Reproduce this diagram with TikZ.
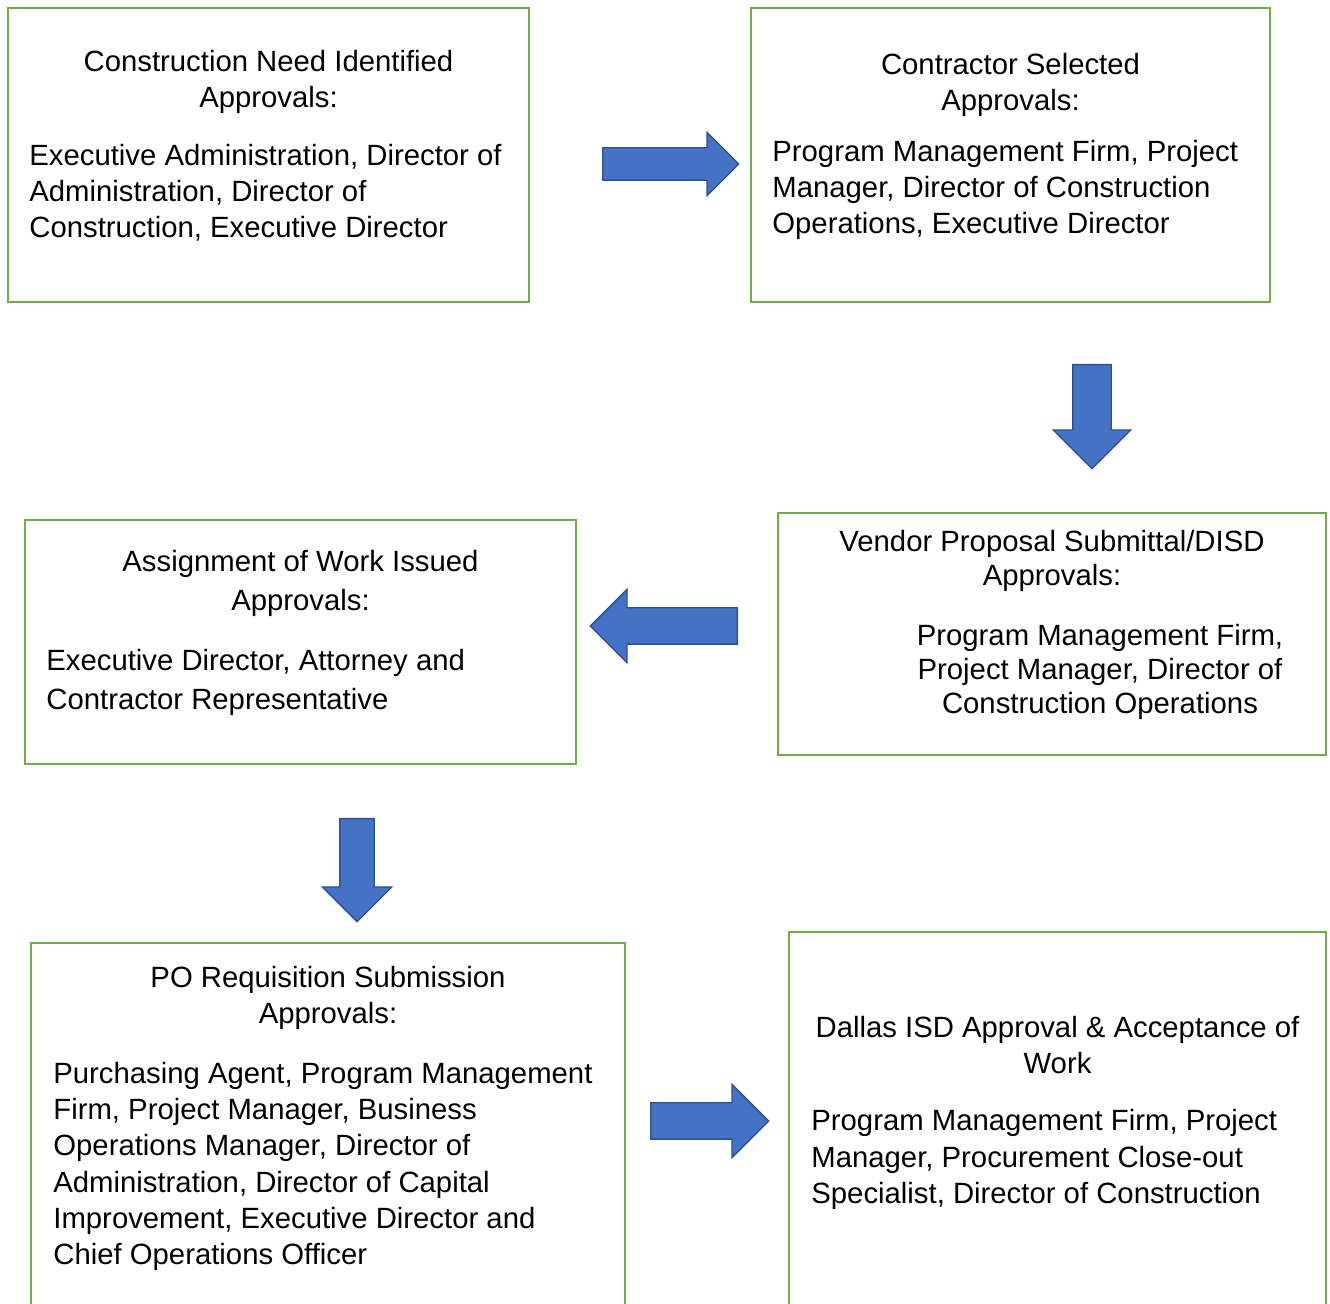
\documentclass[tikz,border=0pt]{standalone}
\usepackage{fontspec}
\setmainfont{Liberation Sans}
\usetikzlibrary{shapes,arrows,positioning,fit}
\definecolor{stagegreen}{RGB}{112,173,71}
\definecolor{flowblue}{RGB}{68,114,196}
\definecolor{flowedge}{RGB}{47,82,143}

\tikzset{
  stagebox/.style={draw=stagegreen, line width=1.3pt, inner sep=0pt},
  stagetext/.style={inner sep=0pt, font=\fontsize{14.65}{#1}\selectfont},
  stagetext/.default=18pt,
  flowarrow/.style n args={3}{single arrow, draw=flowedge, fill=flowblue,
    line width=0.7pt, inner sep=#2, minimum width=1pt,
    minimum height=#1, single arrow head extend=#3, anchor=tail}
}

\begin{document}
\begin{tikzpicture}[x=0.5pt,y=-0.5pt]
    \useasboundingbox (0,0) rectangle (1330,1304);

    % stage boxes
    \node[stagebox, fit={(8,8) (529,302)}] (need) {};
    \node[stagebox, fit={(751,8) (1270,302)}] (select) {};
    \node[stagebox, fit={(778,513) (1326,755)}] (vendor) {};
    \node[stagebox, fit={(25,520) (576,764)}] (assign) {};
    \node[stagebox, fit={(31,943) (625,1314)}] (requisition) {};
    \node[stagebox, fit={(789,932) (1326,1314)}] (accept) {};

    % box texts (base = baseline of the last line)
    \node[stagetext, anchor=base, align=center] (needtitle) at (268.5,108)
        {Construction Need Identified\\Approvals:};
    \node[stagetext, anchor=base west, align=left] (needbody) at (29,238)
        {Executive Administration, Director of\\Administration, Director of\\Construction, Executive Director};

    \node[stagetext, anchor=base, align=center] (selecttitle) at (1010.5,111)
        {Contractor Selected\\Approvals:};
    \node[stagetext, anchor=base west, align=left] (selectbody) at (772,234)
        {Program Management Firm, Project\\Manager, Director of Construction\\Operations, Executive Director};

    \node[stagetext=17pt, anchor=base, align=center] (vendortitle) at (1052,586)
        {Vendor Proposal Submittal/DISD\\Approvals:};
    \node[stagetext=17pt, anchor=base, align=center] (vendorbody) at (1100,714)
        {Program Management Firm,\\Project Manager, Director of\\Construction Operations};

    \node[stagetext=19.5pt, anchor=base, align=center] (assigntitle) at (300.5,611)
        {Assignment of Work Issued\\Approvals:};
    \node[stagetext=19.5pt, anchor=base west, align=left] (assignbody) at (46,710)
        {Executive Director, Attorney and\\Contractor Representative};

    \node[stagetext, anchor=base, align=center] (requisitiontitle) at (328,1024)
        {PO Requisition Submission\\Approvals:};
    \node[stagetext=18.2pt, anchor=base west, align=left] (requisitionbody) at (53,1265)
        {Purchasing Agent, Program Management\\Firm, Project Manager, Business\\Operations Manager, Director of\\Administration, Director of Capital\\Improvement, Executive Director and\\Chief Operations Officer};

    \node[stagetext, anchor=base, align=center] (accepttitle) at (1057.5,1074)
        {Dallas ISD Approval \& Acceptance of\\Work};
    \node[stagetext, anchor=base west, align=left] (acceptbody) at (811,1203)
        {Program Management Firm, Project\\Manager, Procurement Close-out\\Specialist, Director of Construction};

    % block arrows
    \node[flowarrow={68pt}{7.75pt}{7.75pt}] (arrowA) at (602,164) {};
    \node[flowarrow={52pt}{9.25pt}{9.75pt}, shape border rotate=270] (arrowB) at (1092,364) {};
    \node[flowarrow={73.5pt}{8.75pt}{9.25pt}, shape border rotate=180] (arrowC) at (738,626) {};
    \node[flowarrow={51.5pt}{8.25pt}{8.75pt}, shape border rotate=270] (arrowD) at (357,818) {};
    \node[flowarrow={59pt}{8.75pt}{9.25pt}] (arrowE) at (650,1121) {};
\end{tikzpicture}
\end{document}
